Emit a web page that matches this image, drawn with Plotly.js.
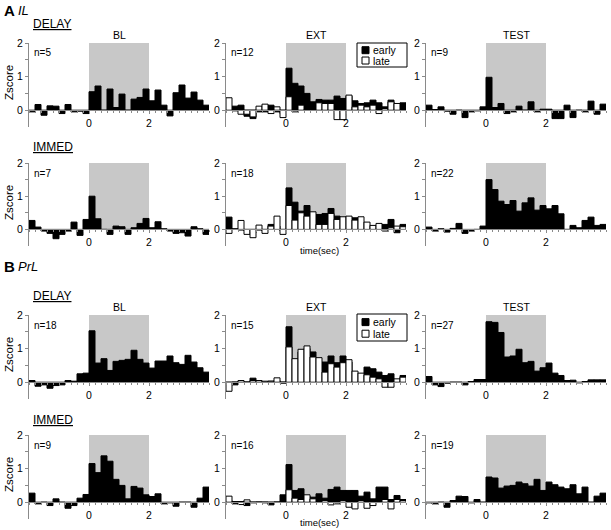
<!DOCTYPE html>
<html><head><meta charset="utf-8">
<script src="https://cdn.plot.ly/plotly-3.0.1.min.js"></script>
<style>html,body{margin:0;padding:0;background:#fff}#chart{width:611px;height:530px}</style>
</head><body><div id="chart"></div>
<script>
// bin centers (sec), 0.2 s bins from -2 to 4
const time = [-1.9,-1.7,-1.5,-1.3,-1.1,-0.9,-0.7,-0.5,-0.3,-0.1,0.1,0.3,0.5,0.7,0.9,1.1,1.3,1.5,1.7,1.9,2.1,2.3,2.5,2.7,2.9,3.1,3.3,3.5,3.7,3.9];

const ilDelayBL = [-0.05,0.17,-0.15,0.13,0.12,-0.1,0.17,-0.05,-0.03,-0.1,0.55,0.72,0.0,0.63,0.08,0.48,0.0,0.33,0.38,0.63,0.28,0.6,0.15,-0.17,0.52,0.75,0.36,0.54,0.3,0.15];
const ilDelayExtEarly = [0.1,0.12,0.15,-0.18,-0.25,-0.05,-0.05,0.15,-0.05,-0.1,1.25,0.8,0.72,0.5,0.25,0.32,0.3,0.3,0.42,0.35,0.42,0.28,0.2,0.22,0.3,0.22,0.1,0.3,0.05,0.22];
const ilDelayExtLate = [0.37,-0.02,-0.12,-0.12,-0.2,0.12,0.18,-0.1,0.1,-0.22,0.4,-0.05,0.15,0.02,0.0,0.22,0.2,0.2,-0.28,-0.28,0.45,0.1,0.15,0.1,0.15,-0.1,0.05,0.25,0.2,0.0];
const ilDelayTest = [0.15,0.02,0.1,-0.03,-0.12,0.0,-0.22,-0.05,-0.02,0.1,0.98,0.08,0.2,-0.1,-0.05,0.12,0.0,0.25,-0.05,0.03,0.03,-0.25,-0.25,0.15,-0.22,0.0,-0.05,0.27,-0.12,0.18];

const ilImmedBL = [0.27,0.07,-0.05,-0.12,-0.28,-0.15,-0.05,0.22,-0.18,0.3,1.0,0.32,0.0,-0.15,0.1,0.08,-0.15,0.05,0.18,0.33,0.05,0.23,0.02,-0.05,-0.12,-0.1,-0.2,0.08,0.02,-0.15];
const ilImmedExtEarly = [0.37,0.02,-0.02,-0.05,-0.1,-0.02,-0.05,0.15,0.1,-0.05,1.25,0.82,0.55,0.72,0.3,0.45,0.48,0.63,0.4,0.32,0.2,0.35,0.15,0.1,0.05,0.1,0.15,0.3,-0.1,0.15];
const ilImmedExtLate = [-0.12,0.0,0.27,-0.15,-0.25,0.13,-0.12,0.1,0.4,-0.15,0.72,0.28,0.5,0.4,0.53,0.15,0.15,0.48,0.3,0.38,0.4,0.28,0.38,0.22,0.12,0.18,-0.05,0.05,0.1,0.08];
const ilImmedTest = [0.07,-0.05,0.02,-0.08,0.03,0.18,-0.12,-0.05,0.0,0.1,1.5,1.2,0.85,0.75,0.87,0.55,0.8,0.95,0.58,0.72,0.62,0.72,0.47,0.0,0.12,0.05,0.27,0.37,0.12,0.15];

const prlDelayBL = [0.05,-0.12,-0.08,-0.18,-0.1,-0.08,0.05,0.03,0.25,0.27,1.53,0.57,0.7,0.35,0.62,0.65,0.68,0.95,0.68,0.57,0.42,0.63,0.63,0.78,0.58,0.53,0.8,0.6,0.43,0.3];
const prlDelayExtEarly = [-0.08,-0.08,0.02,0.0,0.12,0.03,0.02,0.03,0.05,-0.03,1.65,0.65,0.9,1.0,0.9,0.5,0.6,0.78,0.58,0.78,0.6,0.2,0.15,0.45,0.4,0.3,0.2,0.25,0.05,0.2];
const prlDelayExtLate = [-0.27,0.0,0.05,0.0,0.05,0.05,0.03,0.03,0.13,0.0,1.05,0.7,0.98,1.08,0.75,0.73,0.3,0.55,0.45,0.58,0.67,0.33,0.27,0.22,0.15,0.1,-0.15,-0.15,0.1,0.15];
const prlDelayTest = [0.17,-0.08,-0.13,-0.03,0.0,0.0,-0.08,0.02,0.08,0.08,1.8,1.78,1.48,0.75,0.78,0.98,0.58,0.62,0.33,0.43,0.57,0.27,0.2,0.05,0.06,-0.02,0.02,0.07,0.07,0.07];

const prlImmedBL = [0.27,-0.05,0.0,-0.1,0.1,0.0,-0.18,-0.1,0.12,0.23,1.15,0.88,1.38,1.22,0.68,0.5,0.1,0.47,0.42,0.22,0.17,0.25,-0.05,-0.02,-0.12,0.0,0.0,-0.15,0.12,0.45];
const prlImmedExtEarly = [0.05,-0.05,0.02,-0.1,-0.02,0.0,0.0,-0.08,0.0,0.22,1.12,0.35,0.4,0.18,0.15,0.25,0.12,0.38,0.45,0.35,0.35,0.35,0.18,0.3,0.1,0.45,0.45,0.08,0.2,0.08];
const prlImmedExtLate = [0.18,0.02,-0.07,0.07,0.0,0.0,-0.02,-0.02,0.0,0.0,0.37,0.12,0.08,0.22,0.1,0.0,0.05,-0.08,-0.05,0.05,-0.15,-0.2,0.05,-0.18,-0.1,0.0,0.08,-0.2,0.08,0.05];
const prlImmedTest = [-0.02,-0.05,0.0,-0.15,0.05,0.18,0.17,-0.02,0.08,0.0,0.75,0.72,0.42,0.48,0.5,0.6,0.55,0.48,0.68,0.35,0.6,0.52,0.45,0.4,0.52,0.25,0.45,0.0,0.18,0.27];

const panelTitles = ['BL', 'EXT', 'TEST'];
const nLabels = [['n=5','n=12','n=9'],['n=7','n=18','n=22'],['n=18','n=15','n=27'],['n=9','n=16','n=19']];
const groupLabels = ['DELAY', 'IMMED', 'DELAY', 'IMMED'];
const regionLetters = ['A', 'B'];
const regionNames = ['IL', 'PrL'];
const legendNames = ['early', 'late'];
const xTickVals = [0, 2];
const yTickVals = [0, 1, 2];

// panel data: rows x cols, each {early, late}
const panels = [
  [{early: ilDelayBL}, {early: ilDelayExtEarly, late: ilDelayExtLate}, {early: ilDelayTest}],
  [{early: ilImmedBL}, {early: ilImmedExtEarly, late: ilImmedExtLate}, {early: ilImmedTest}],
  [{early: prlDelayBL}, {early: prlDelayExtEarly, late: prlDelayExtLate}, {early: prlDelayTest}],
  [{early: prlImmedBL}, {early: prlImmedExtEarly, late: prlImmedExtLate}, {early: prlImmedTest}]
];

// ---------- geometry (pixels) ----------
const W = 611, H = 530;
const colPx = [[29, 209], [226, 406], [426, 606]];
const rowPx = [[43, 127], [163, 246], [315, 399], [435, 519]];
const YMIN = -0.5, YMAX = 2;
const fx = p => p / W;
const fy = p => 1 - p / H;

const FONT = 'Liberation Sans, Arial, Helvetica, sans-serif';
const AXC = '#8a8a8a';

const minorX = [];
for (let v = -2; v <= 4.0001; v += 0.2) minorX.push(Math.round(v * 10) / 10);

const traces = [];
const layout = {
  width: W, height: H,
  margin: {l: 0, r: 0, t: 0, b: 0},
  paper_bgcolor: '#fff', plot_bgcolor: 'rgba(0,0,0,0)',
  font: {family: FONT, color: '#000', size: 10},
  showlegend: false,
  barmode: 'overlay', bargap: 0,
  shapes: [], annotations: []
};

for (let r = 0; r < 4; r++) {
  for (let c = 0; c < 3; c++) {
    const k = r * 3 + c + 1;
    const xs = k === 1 ? 'x' : 'x' + k;
    const ys = k === 1 ? 'y' : 'y' + k;
    const xk = k === 1 ? 'xaxis' : 'xaxis' + k;
    const yk = k === 1 ? 'yaxis' : 'yaxis' + k;
    const [top, bot] = rowPx[r];
    const yDom = [fy(bot), fy(top)];
    const zeroPos = yDom[0] + (0 - YMIN) / (YMAX - YMIN) * (yDom[1] - yDom[0]);

    layout[xk] = {
      domain: [fx(colPx[c][0]), fx(colPx[c][1])],
      range: [-2, 4], anchor: 'free', position: zeroPos,
      showline: true, linecolor: AXC, linewidth: 1,
      ticks: 'outside', ticklen: 3, tickcolor: AXC, tickwidth: 1,
      tickmode: 'array', tickvals: xTickVals,
      tickfont: {size: 10.5, family: FONT, color: '#000'},
      minor: {tickmode: 'array', tickvals: minorX, ticks: 'outside', ticklen: 2, tickcolor: AXC},
      showgrid: false, zeroline: false, fixedrange: true
    };
    layout[yk] = {
      domain: yDom, range: [YMIN, YMAX], anchor: xs,
      showline: true, linecolor: AXC, linewidth: 1,
      ticks: 'outside', ticklen: 3, tickcolor: AXC, tickwidth: 1,
      tickmode: 'array', tickvals: yTickVals,
      tickfont: {size: 10.5, family: FONT, color: '#000'},
      minor: {tickmode: 'array', tickvals: [0.5, 1.5], ticks: 'outside', ticklen: 3, tickcolor: AXC},
      showgrid: false, zeroline: false, fixedrange: true
    };

    // stimulus shading 0–2 s
    layout.shapes.push({type: 'rect', xref: xs, yref: ys, x0: 0, x1: 2, y0: 0, y1: 2,
      fillcolor: '#c8c8c8', line: {width: 0}, layer: 'below'});

    const p = panels[r][c];
    traces.push({type: 'bar', name: legendNames[0], x: time, y: p.early, xaxis: xs, yaxis: ys,
      width: 0.2, marker: {color: '#000', line: {color: '#000', width: 1}}, hoverinfo: 'skip'});
    if (p.late) {
      traces.push({type: 'bar', name: legendNames[1], x: time, y: p.late, xaxis: xs, yaxis: ys,
        width: 0.2, marker: {color: '#fff', line: {color: '#000', width: 1}}, hoverinfo: 'skip'});
    }

    // n= label
    layout.annotations.push({xref: 'paper', yref: 'paper', x: fx(colPx[c][0] + 3), y: fy(top + 10),
      xanchor: 'left', yanchor: 'middle', showarrow: false, text: nLabels[r][c], font: {size: 10}});

    // column titles on DELAY rows
    if (r === 0 || r === 2) {
      layout.annotations.push({xref: xs, yref: 'paper', x: 1, y: fy(top - 8),
        xanchor: 'center', yanchor: 'middle', showarrow: false, text: panelTitles[c], font: {size: 10.5}});
    }
    // Zscore on first column
    if (c === 0) {
      layout.annotations.push({xref: 'paper', yref: 'paper', x: fx(9), y: fy(top + 40),
        xanchor: 'center', yanchor: 'middle', showarrow: false, textangle: -90, text: 'Zscore', font: {size: 11.5}});
    }
    // time(sec) under middle column on IMMED rows
    if (c === 1 && (r === 1 || r === 3)) {
      layout.annotations.push({xref: 'paper', yref: 'paper', x: fx(319), y: fy(bot + (r === 1 ? 4 : 3)),
        xanchor: 'center', yanchor: 'middle', showarrow: false, text: 'time(sec)', font: {size: 9.5}});
    }
  }
}

// region and group labels
const regionY = [11, 266];
for (let i = 0; i < 2; i++) {
  layout.annotations.push({xref: 'paper', yref: 'paper', x: fx(2), y: fy(regionY[i]), xanchor: 'left', yanchor: 'middle',
    showarrow: false, text: '<b>' + regionLetters[i] + '</b>', font: {size: 15}});
  layout.annotations.push({xref: 'paper', yref: 'paper', x: fx(16), y: fy(regionY[i]), xanchor: 'left', yanchor: 'middle',
    showarrow: false, text: '<i>' + regionNames[i] + '</i>', font: {size: 13}});
}
const groupY = [24, 147, 296, 420];
for (let i = 0; i < 4; i++) {
  layout.annotations.push({xref: 'paper', yref: 'paper', x: fx(31), y: fy(groupY[i]), xanchor: 'left', yanchor: 'middle',
    showarrow: false, text: '<u>' + groupLabels[i] + '</u>', font: {size: 12}});
}

// manual legends in EXT panels of DELAY rows
function addLegend(top, bottom) {
  const left = 357, right = 407;
  layout.shapes.push({type: 'rect', xref: 'paper', yref: 'paper', x0: fx(left), x1: fx(right), y0: fy(bottom), y1: fy(top),
    fillcolor: '#fff', line: {color: '#000', width: 1}, layer: 'above'});
  const h = bottom - top;
  const rows = [top + h * 0.3, top + h * 0.73];
  const fills = ['#000', '#fff'];
  for (let j = 0; j < 2; j++) {
    layout.shapes.push({type: 'rect', xref: 'paper', yref: 'paper', x0: fx(362), x1: fx(369),
      y0: fy(rows[j] + 3.5), y1: fy(rows[j] - 3.5), fillcolor: fills[j], line: {color: '#000', width: 1}, layer: 'above'});
    layout.annotations.push({xref: 'paper', yref: 'paper', x: fx(371), y: fy(rows[j]), xanchor: 'left', yanchor: 'middle',
      showarrow: false, text: legendNames[j], font: {size: 10.5}});
  }
}
addLegend(43, 67);
addLegend(314, 341);

Plotly.newPlot('chart', traces, layout, {staticPlot: true, displayModeBar: false});
</script>
</body></html>
